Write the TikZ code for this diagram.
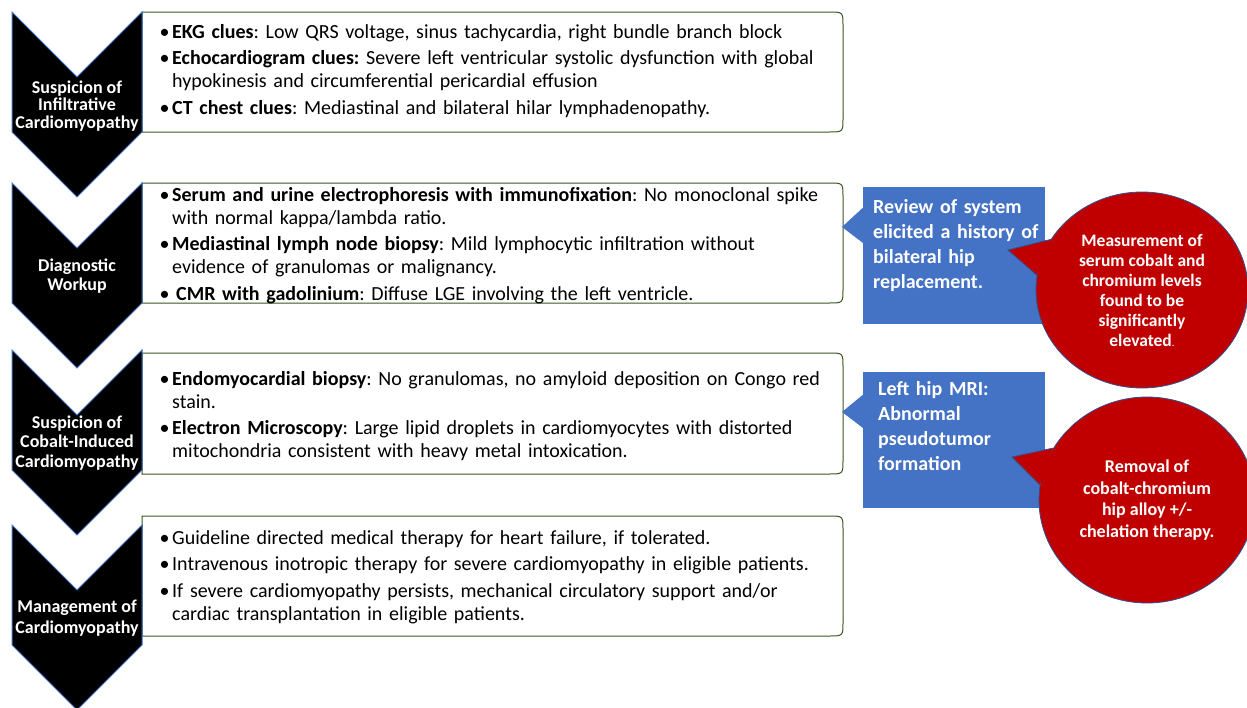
\documentclass[tikz,border=0pt]{standalone}
\usepackage{fontspec}
\setmainfont{Carlito}
\usetikzlibrary{shapes.geometric,calc}
\definecolor{cblue}{RGB}{68,114,196}
\definecolor{cred}{RGB}{192,0,0}
\definecolor{bgreen}{RGB}{56,87,35}
\definecolor{edgeblue}{RGB}{47,82,143}
\newcommand\bitem[1]{\hangindent=9pt\hangafter=1\noindent\makebox[9pt][l]{\hspace{-3.5pt}\textbullet}#1\par}
\newcommand\chevron[2]{%
  \draw[chevshape] (12,#1) -- (77,{#1+65}) -- (142,#1) -- (142,#2) -- (77,{#2+65}) -- (12,#2) -- cycle;}
\newcommand\textbox[2]{%
  \draw[boxline] (142,#1) -- (829,#1) .. controls (843,#1) .. (843,{#1+14}) -- (843,{#2-14}) .. controls (843,#2) .. (829,#2) -- (142,#2) -- cycle;}
\begin{document}
\begin{tikzpicture}[x=1pt,y=-1pt,
  chevshape/.style={fill=black,draw=cblue,line width=1pt,line join=miter},
  chevtext/.style={text=white,font=\bfseries\fontsize{18}{19.5}\selectfont,align=center,inner sep=0pt},
  boxline/.style={draw=bgreen,line width=1pt,fill=white},
  boxtext/.style={anchor=base west,inner sep=0pt,text width=700pt,align=left,font=\frenchspacing\fontsize{20}{23}\selectfont},
  callbox/.style={fill=cblue,draw=none,minimum width=182pt,inner sep=0pt},
  calltext/.style={anchor=base west,inner sep=0pt,text width=175pt,align=left,text=white,font=\bfseries\fontsize{20}{25}\selectfont},
  redcirc/.style={ellipse,fill=cred,draw=edgeblue,line width=0.8pt,inner sep=0pt,text=white,align=center},
  tailedge/.style={draw=edgeblue,line width=0.8pt}]
\useasboundingbox (0,0) rectangle (1247,707);
\fill[white] (0,0) rectangle (1247,707);

% text boxes
\textbox{12}{132}
\textbox{183}{303}
\textbox{353}{474}
\textbox{516}{636}

% chevrons
\chevron{12}{132}
\chevron{183}{303}
\chevron{350}{470}
\chevron{525}{645}

\node[chevtext,font=\bfseries\fontsize{18}{17.5}\selectfont] (c1) at (77,106) {Suspicion of\\Infiltrative\\Cardiomyopathy};
\node[chevtext] (c2) at (77,276) {Diagnostic\\Workup};
\node[chevtext] (c3) at (77,443) {Suspicion of\\Cobalt-Induced\\Cardiomyopathy};
\node[chevtext,font=\bfseries\fontsize{18}{21}\selectfont] (c4) at (77,618) {Management of\\Cardiomyopathy};

% box texts
\node[boxtext] (t1) at (163,38) {\setlength\parskip{3.5pt}%
\bitem{\textbf{EKG clues}: Low QRS voltage, sinus tachycardia, right bundle branch block}
\bitem{\textbf{Echocardiogram clues:} Severe left ventricular systolic dysfunction with global\newline hypokinesis and circumferential pericardial effusion}
\bitem{\textbf{CT chest clues}: Mediastinal and bilateral hilar lymphadenopathy.}};

\node[boxtext] (t2) at (163,201) {\setlength\parskip{3.5pt}%
\bitem{\textbf{Serum and urine electrophoresis with immunofixation}: No monoclonal spike\newline with normal kappa/lambda ratio.}
\bitem{\textbf{Mediastinal lymph node biopsy}: Mild lymphocytic infiltration without\newline evidence of granulomas or malignancy.}
\bitem{\hspace{4pt}\textbf{CMR with gadolinium}: Diffuse LGE involving the left ventricle.}};

\node[boxtext] (t3) at (163,385) {\setlength\parskip{3.5pt}%
\bitem{\textbf{Endomyocardial biopsy}: No granulomas, no amyloid deposition on Congo red\newline stain.}
\bitem{\textbf{Electron Microscopy}: Large lipid droplets in cardiomyocytes with distorted\newline mitochondria consistent with heavy metal intoxication.}};

\node[boxtext] (t4) at (163,544) {\setlength\parskip{3.5pt}%
\bitem{Guideline directed medical therapy for heart failure, if tolerated.}
\bitem{Intravenous inotropic therapy for severe cardiomyopathy in eligible patients.}
\bitem{If severe cardiomyopathy persists, mechanical circulatory support and/or\newline cardiac transplantation in eligible patients.}};

% blue callouts
\node[callbox,minimum height=137pt] (b1) at (954,255.5) {};
\coordinate (p1) at (842,227);
\fill[cblue] ([yshift=-21pt]b1.north west) -- (p1) -- ([yshift=-56pt]b1.north west) -- cycle;
\node[calltext] (bt1) at (873,213) {Review of system\\elicited a history of\\bilateral hip\\replacement.};

\node[callbox,minimum height=136pt] (b2) at (954,440) {};
\coordinate (p2) at (842,412);
\fill[cblue] ([yshift=-23pt]b2.north west) -- (p2) -- ([yshift=-56pt]b2.north west) -- cycle;
\node[calltext] (bt2) at (878,395) {Left hip MRI:\\Abnormal\\pseudotumor\\formation};

% red callouts
\node[redcirc,minimum width=212pt,minimum height=196pt,font=\bfseries\fontsize{17.5}{20}\selectfont] (e1) at (1142,290)
  {Measurement of\\serum cobalt and\\chromium levels\\found to be\\significantly\\elevated{\mdseries\fontsize{11}{11}\selectfont.}};
\coordinate (q1) at (1008,250);
\fill[cred] (q1) -- (e1.151) -- (e1.172) -- cycle;
\draw[tailedge] (e1.151) -- (q1) -- (e1.172);

\node[redcirc,minimum width=216pt,minimum height=206pt,font=\bfseries\fontsize{18}{21.7}\selectfont] (e2) at (1147,500)
  {Removal of\\cobalt-chromium\\hip alloy +/-\\chelation therapy.};
\coordinate (q2) at (1012,457);
\fill[cred] (q2) -- (e2.151) -- (e2.172) -- cycle;
\draw[tailedge] (e2.151) -- (q2) -- (e2.172);
\end{tikzpicture}
\end{document}
